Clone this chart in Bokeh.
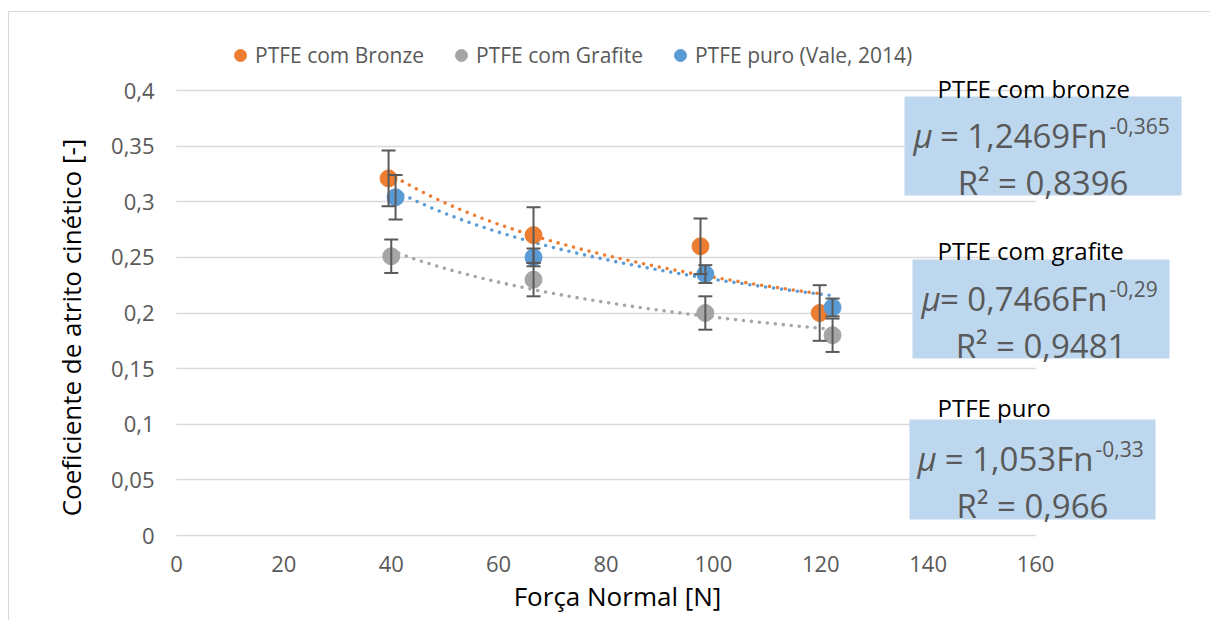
import math
import numpy as np
from bokeh.plotting import figure
from bokeh.models import (ColumnDataSource, Range1d, FixedTicker, CustomJSTickFormatter,
                          Whisker, TeeHead, Legend, LegendItem, Label, BoxAnnotation)
from bokeh.embed import file_html
from bokeh.resources import INLINE

# ---------------- data ----------------
series_names = ["PTFE com Bronze", "PTFE com Grafite", "PTFE puro (Vale, 2014)"]
colors = ["#ED7D31", "#A5A5A5", "#5B9BD5"]

bronze_x = [39.5, 66.5, 97.6, 119.8]
bronze_y = [0.321, 0.270, 0.260, 0.200]
bronze_err = [0.025, 0.025, 0.025, 0.025]

grafite_x = [40.0, 66.5, 98.5, 122.2]
grafite_y = [0.251, 0.230, 0.200, 0.180]
grafite_err = [0.015, 0.015, 0.015, 0.015]

puro_x = [40.8, 66.5, 98.5, 122.2]
puro_y = [0.304, 0.250, 0.235, 0.205]
puro_err = [0.020, 0.008, 0.008, 0.008]

# power-law trendlines shown in the chart: mu = a * Fn^b
trend_a = [1.2469, 0.7466, 1.053]
trend_b = [-0.365, -0.29, -0.33]

box_titles = ["PTFE com bronze", "PTFE com grafite", "PTFE puro"]
box_eq_main = ["= 1,2469Fn", "= 0,7466Fn", "= 1,053Fn"]
box_eq_sup = ["-0,365", "-0,29", "-0,33"]
box_r2 = ["R\u00b2 = 0,8396", "R\u00b2 = 0,9481", "R\u00b2 = 0,966"]

x_ticks = [0, 20, 40, 60, 80, 100, 120, 140, 160]
y_ticks = [0, 0.05, 0.1, 0.15, 0.2, 0.25, 0.3, 0.35, 0.4]
x_axis_min, x_axis_max = 0, 160

x_title = "For\u00e7a Normal [N]"
y_title = "Coeficiente de atrito cin\u00e9tico [-]"

# ---------------- layout (pixels) ----------------
W, H = 1210, 620
X0_PX, Y0_PX = 176, 535                   # page position of data origin
PX_PER_X = 859 / 160                      # px per unit in x
PX_PER_Y = 445 / 0.4                      # px per unit in y

def dx(px):  # page pixel -> data x
    return (px - X0_PX) / PX_PER_X

def dy(py):  # page pixel -> data y
    return (Y0_PX - py) / PX_PER_Y

FONT = "Open Sans"

p = figure(width=W, height=H, output_backend="svg", toolbar_location=None,
           x_range=Range1d(dx(0), dx(W)), y_range=Range1d(dy(H), dy(0)),
           min_border=0)
p.outline_line_color = None
p.background_fill_alpha = 0
p.border_fill_alpha = 0
# light grey chart-area border (left and top edges visible)
p.styles = {
    "background-color": "white",
    "background-image": "linear-gradient(#D9D9D9, #D9D9D9), linear-gradient(#D9D9D9, #D9D9D9)",
    "background-size": "1px 100%, 100% 1px",
    "background-position": "8px 11px, 8px 11px",
    "background-repeat": "no-repeat",
}

# axes (fixed at the data origin)
p.xaxis.fixed_location = 0
p.yaxis.fixed_location = 0
p.xaxis.ticker = FixedTicker(ticks=x_ticks)
p.yaxis.ticker = FixedTicker(ticks=y_ticks)
p.yaxis.formatter = CustomJSTickFormatter(code="var s = (Math.round(tick*100)/100).toString(); return s.replace('.', ',');")
for ax in (p.xaxis, p.yaxis):
    ax.axis_line_color = None
    ax.major_tick_line_color = None
    ax.minor_tick_line_color = None
    ax.major_tick_out = 0
    ax.major_tick_in = 0
    ax.major_label_text_font = FONT
    ax.major_label_text_font_size = "22px"
    ax.major_label_text_color = "#595959"
p.yaxis.major_label_standoff = 22
p.xaxis.major_label_standoff = 20

# horizontal gridlines limited to the axis extent
p.xgrid.visible = False
use_cross = True
try:
    p.ygrid.cross_bounds = (x_axis_min, x_axis_max)
except Exception:
    use_cross = False
if use_cross:
    p.ygrid.ticker = FixedTicker(ticks=y_ticks)
    p.ygrid.grid_line_color = "#D9D9D9"
    p.ygrid.grid_line_width = 1.5
else:
    p.ygrid.visible = False
    p.segment(x0=[x_axis_min] * len(y_ticks), x1=[x_axis_max] * len(y_ticks), y0=y_ticks, y1=y_ticks,
              line_color="#D9D9D9", line_width=1.5, level="underlay")

# axis titles
p.add_layout(Label(x=dx(617), y=dy(595), text=x_title, text_font=FONT, text_font_size="26px",
                   text_color="#000000", text_align="center", text_baseline="middle"))
p.add_layout(Label(x=dx(70), y=dy(327), text=y_title, text_font=FONT, text_font_size="26px",
                   text_color="#000000", text_align="center", text_baseline="middle",
                   angle=math.pi / 2))

# series
all_x = [bronze_x, grafite_x, puro_x]
all_y = [bronze_y, grafite_y, puro_y]
all_e = [bronze_err, grafite_err, puro_err]

# trendlines
for xs, a, b, c in zip(all_x, trend_a, trend_b, colors):
    tx = np.linspace(min(xs), max(xs), 80)
    ty = a * tx ** b
    p.line(tx, ty, line_color=c, line_width=3.6, line_dash="0 8", line_cap="round")

# error bars
for xs, ys, es in zip(all_x, all_y, all_e):
    src = ColumnDataSource(dict(x=xs, up=[y + e for y, e in zip(ys, es)],
                                lo=[y - e for y, e in zip(ys, es)]))
    p.add_layout(Whisker(base="x", upper="up", lower="lo", source=src,
                         line_color="#595959", line_width=2, level="glyph",
                         upper_head=TeeHead(size=14, line_color="#595959", line_width=2),
                         lower_head=TeeHead(size=14, line_color="#595959", line_width=2)))

renderers = []
for xs, ys, c in zip(all_x, all_y, colors):
    r = p.scatter(xs, ys, size=17, fill_color=c, line_color=c, marker="circle")
    renderers.append(r)

legend = Legend(items=[LegendItem(label=n, renderers=[r]) for n, r in zip(series_names, renderers)],
                orientation="horizontal", location=(225, H - 40 - 30),
                glyph_width=30, glyph_height=30, label_standoff=0, spacing=22,
                padding=0, margin=0, border_line_color=None, background_fill_alpha=0,
                label_text_font=FONT, label_text_font_size="21px", label_text_color="#595959")
p.add_layout(legend)

# equation boxes
boxes = [  # (left, right, top, bottom, title_base, eq_base, sup_base, r2_base, fn_end, mu_x)
    (904, 1181, 96, 195, 88, 135, 125, 182, 1107, 913),
    (912, 1169, 259, 358, 250, 298, 288, 345, 1107, 921),
    (909, 1155, 419, 519, 407, 458, 448, 505, 1093, 917),
]
for (l, r, t, b, tb, eb, sb, rb, fe, mx), tt, em, es, r2 in zip(boxes, box_titles, box_eq_main, box_eq_sup, box_r2):
    p.add_layout(BoxAnnotation(left=dx(l), right=dx(r), top=dy(t), bottom=dy(b),
                               fill_color="#BDD7EE", fill_alpha=1, line_color=None, level="annotation"))
    p.add_layout(Label(x=dx(937), y=dy(tb), text=tt, text_font=FONT, text_font_size="24px",
                       text_color="#000000", text_align="left", text_baseline="alphabetic"))
    p.add_layout(Label(x=dx(mx), y=dy(eb), text="\u03bc", text_font=FONT, text_font_size="33px",
                       text_font_style="italic",
                       text_color="#595959", text_align="left", text_baseline="alphabetic"))
    p.add_layout(Label(x=dx(fe), y=dy(eb), text=em, text_font=FONT, text_font_size="33px",
                       text_color="#595959", text_align="right", text_baseline="alphabetic"))
    p.add_layout(Label(x=dx(fe + 2), y=dy(sb), text=es, text_font=FONT, text_font_size="21px",
                       text_color="#595959", text_align="left", text_baseline="alphabetic"))
    p.add_layout(Label(x=dx((l + r) / 2), y=dy(rb), text=r2, text_font=FONT, text_font_size="33px",
                       text_color="#595959", text_align="center", text_baseline="alphabetic"))

open("out.html", "w").write(file_html(p, INLINE))
